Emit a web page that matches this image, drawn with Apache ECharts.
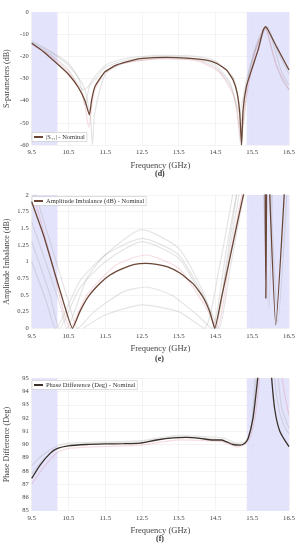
<!DOCTYPE html>
<html><head><meta charset="utf-8">
<script src="https://cdn.jsdelivr.net/npm/echarts@6/dist/echarts.min.js"></script>
<style>html,body{margin:0;padding:0;background:#fff}#c{width:303px;height:550px}</style>
</head><body><div id="c"></div>
<script>
// ---- Data ----
const xTicks = [9.5, 10.5, 11.5, 12.5, 13.5, 14.5, 15.5, 16.5];
const bandLeft = [9.5, 10.2];
const bandRight = [15.35, 16.5];

// (d) S-parameters (dB)
const dNominal = [[9.5,-14],[9.82,-17.8],[10.21,-23.5],[10.5,-28],[10.77,-34],[10.95,-40],[11.07,-46.4],[11.13,-39.7],[11.22,-33.6],[11.36,-29.9],[11.5,-26.8],[11.81,-23.8],[12.26,-21.6],[12.53,-20.8],[13.17,-20.4],[13.71,-20.7],[14.26,-21.6],[14.53,-23.1],[14.8,-26.1],[14.98,-30.6],[15.09,-36.6],[15.16,-45.7],[15.21,-60],[15.25,-44.2],[15.34,-33.6],[15.48,-26.1],[15.66,-17],[15.8,-8],[15.86,-6.5],[15.93,-8],[16.16,-15.5],[16.5,-26.1]];
const dVar1 = [[9.5,-14],[10,-19],[10.5,-26],[10.9,-35],[11.2,-31],[11.5,-25],[12,-22],[13,-20],[14,-21],[14.5,-24],[14.9,-32],[15.15,-45],[15.35,-30],[15.6,-16],[15.9,-7],[16.1,-16],[16.3,-27],[16.5,-33]];
const dVar2 = [[9.5,-13.5],[10,-18],[10.5,-24],[10.9,-33],[11.1,-48],[11.15,-60],[11.22,-45],[11.5,-28],[12,-23],[13,-21],[14,-21.5],[14.5,-25],[14.9,-33],[15.1,-45],[15.18,-60],[15.3,-38],[15.6,-15],[15.85,-6.5],[16.05,-18],[16.3,-30],[16.5,-35]];
const dVar3 = [[9.5,-13],[10,-17.5],[10.5,-23],[10.8,-31],[10.95,-42],[11.1,-32],[11.5,-24],[12,-21],[13,-19.5],[14,-20],[14.5,-22],[15,-30],[15.25,-52],[15.4,-28],[15.65,-14],[15.9,-6.5],[16.2,-18],[16.5,-28]];
const dVar4 = [[9.5,-14.5],[10,-19.5],[10.5,-27],[10.9,-38],[11.05,-52],[11.2,-36],[11.5,-27],[12,-23],[13,-21],[14,-22],[14.6,-27],[15,-38],[15.2,-58],[15.3,-42],[15.6,-17],[15.85,-7],[16.15,-24],[16.5,-35]];

// (e) Amplitude imbalance (dB)
const eNominal = [[9.5,1.9],[9.82,1.4],[10.09,0.9],[10.36,0.4],[10.61,0],[10.81,0.25],[11.04,0.475],[11.36,0.675],[11.63,0.8],[11.99,0.9],[12.3,0.96],[12.6,0.975],[12.9,0.96],[13.2,0.92],[13.53,0.83],[13.89,0.67],[14.16,0.47],[14.35,0.24],[14.48,0],[14.66,0.45],[14.89,1.05],[15.12,1.65],[15.3,2.1],null,[15.85,2.1],[15.87,0.45],[15.89,2.1],null,[15.97,2.1],[16.14,0.05],[16.38,2.1]];
const eVar1 = [[9.5,1.6],[10,0.8],[10.3,0.3],[10.45,0],[11,0.75],[11.5,1.1],[12.5,1.48],[13.5,1.2],[14.2,0.5],[14.5,0],[14.8,0.9],[15.2,2.2]];
const eVar2 = [[9.5,1.3],[10,0.5],[10.25,0],[10.8,0.6],[11.5,1.0],[12.5,1.3],[13.5,1.05],[14.3,0.3],[14.5,0],[14.8,1],[15.1,2.1]];
const eVar3 = [[9.5,2.2],[10,1.3],[10.5,0.4],[10.75,0],[11.2,0.25],[12,0.55],[12.6,0.62],[13.3,0.5],[14,0.2],[14.4,0],[14.8,1.2],[15.1,2.1]];
const eVar4 = [[9.5,2.1],[10,1.1],[10.55,0],[11,0.5],[11.8,0.95],[12.6,1.1],[13.5,0.9],[14.2,0.35],[14.55,0],[14.9,1.1],[15.25,2.1]];
const eVar5 = [[9.5,1.0],[9.9,0.4],[10.15,0],[10.8,0.7],[11.5,1.1],[12.5,1.35],[13.5,1.1],[14.3,0.35],[14.6,0],[14.9,0.9],[15.3,2.1]];
const eVar6 = [[10.9,0],[11.5,0.2],[12.5,0.35],[13.5,0.25],[14.2,0],[14.6,0.9],[15,2.1],null,[15.8,2.1],[15.95,0.3],[16.05,2.1],null,[16.0,2.1],[16.2,0.1],[16.45,2.1]];

// (f) Phase difference (Deg)
const fNominal = [[9.5,87.44],[9.73,88.45],[10.0,89.33],[10.2,89.7],[10.5,89.9],[11.0,90.0],[11.5,90.04],[12.0,90.06],[12.44,90.1],[12.9,90.34],[13.35,90.5],[13.7,90.54],[14.07,90.47],[14.43,90.34],[14.66,90.34],[14.8,90.2],[14.98,90.0],[15.16,89.95],[15.3,90.1],[15.39,90.47],[15.52,91.98],[15.61,94],[15.66,95.3],null,[16.02,95.3],[16.11,92.7],[16.25,91],[16.5,89.84]];
const fVar1 = [[9.5,88.4],[9.8,89.2],[10.2,89.9],[10.5,90.1],[11.5,90.2],[12.5,90.3],[13.5,90.7],[14.2,90.6],[14.7,90.5],[15.1,90.1],[15.3,90.2],[15.45,91],[15.55,93],[15.62,95.2],null,[16.1,95.2],[16.2,93],[16.35,91.5],[16.5,90.8]];
const fVar2 = [[9.5,87.0],[9.8,88.2],[10.2,89.4],[10.5,89.7],[11.5,89.85],[12.5,89.95],[13.5,90.35],[14.2,90.3],[14.7,90.2],[15.1,89.8],[15.3,90],[15.45,90.6],[15.6,92.5],[15.7,95.2],null,[16.3,95.2],[16.4,93.5],[16.5,92.2]];
const fVar3 = [[9.5,87.8],[9.8,88.8],[10.2,89.7],[10.5,89.95],[11.5,90.1],[12.5,90.2],[13.5,90.6],[14.5,90.4],[15.2,90],[15.4,90.5],[15.5,92],[15.58,95.2],null,[16.2,95.2],[16.3,92.8],[16.5,91.2]];

// ---- Chart ----
const FONT = 'Liberation Serif';
const NOM = '#6a4636';
const GRAY = 'rgba(150,150,150,0.25)';
const PINK = 'rgba(225,120,140,0.25)';
const BAND = 'rgba(222,222,250,0.85)';

const grids = [
  {left: 31.7, right: 14, top: 12.3, height: 132.7, outerBoundsMode:'none', containLabel:false},
  {left: 31.7, right: 14, top: 195, height: 133.3, outerBoundsMode:'none', containLabel:false},
  {left: 31.7, right: 14, top: 378.3, height: 132.4, outerBoundsMode:'none', containLabel:false}
];
function xAxis(i){
  return {type:'value', gridIndex:i, min:9.5, max:16.5, interval:0.5,
    name:'Frequency (GHz)', nameLocation:'middle', nameGap:16, nameMoveOverlap:false,
    nameTextStyle:{fontFamily:FONT, fontSize:8.5, color:'#444'},
    axisLine:{show:false}, axisTick:{show:false},
    axisLabel:{margin:4, fontFamily:FONT, fontSize:6.8, color:'#444',
      formatter:v => (Math.abs(((v*2)%2)-1) < 1e-6 ? String(v) : '')},
    splitLine:{show:true, lineStyle:{color:['#ececec','rgba(0,0,0,0)'], width:0.6}}};
}
function yAxis(i, min, max, interval, name){
  return {type:'value', gridIndex:i, min:min, max:max, interval:interval,
    name:name, nameLocation:'middle', nameGap:20.5, nameRotate:90, nameMoveOverlap:false,
    nameTextStyle:{fontFamily:FONT, fontSize:8, color:'#444'},
    axisLine:{show:false}, axisTick:{show:false},
    axisLabel:{margin:3, fontFamily:FONT, fontSize:6.5, color:'#444'},
    splitLine:{show:true, lineStyle:{color:'#ececec', width:0.6}}};
}
function faint(i, data, color){
  return {type:'line', xAxisIndex:i, yAxisIndex:i, data:data, showSymbol:false, smooth:0.2,
    lineStyle:{color:color, width:1.2}, silent:true, z:2};
}
function bands(i){
  return {type:'line', xAxisIndex:i, yAxisIndex:i, data:[], silent:true, z:1,
    markArea:{silent:true, itemStyle:{color:BAND}, data:[
      [{xAxis:bandLeft[0]},{xAxis:bandLeft[1]}],
      [{xAxis:bandRight[0]},{xAxis:bandRight[1]}]]}};
}
function nominal(i, name, data, color, sm){
  return {name:name, type:'line', xAxisIndex:i, yAxisIndex:i, data:data, showSymbol:false, smooth:sm,
    lineStyle:{color:color, width:1.3}, itemStyle:{color:color}, z:5};
}
function legend(name, left, top){
  return {data:[name], left:left, top:top, orient:'horizontal', itemWidth:9, itemHeight:2, itemGap:2,
    padding:[1,2], backgroundColor:'#fff', borderColor:'#bbb', borderWidth:0.5, borderRadius:0,
    icon:'rect', textStyle:{fontFamily:FONT, fontSize:6.5, color:'#333', padding:[0,0,0,-2]}, selectedMode:false};
}
const nD = '|S\u2081\u2081| - Nominal';
const nE = 'Amplitude Imbalance (dB) - Nominal';
const nF = 'Phase Difference (Deg) - Nominal';

const option = {
  animation:false,
  grid:grids,
  xAxis:[xAxis(0), xAxis(1), xAxis(2)],
  yAxis:[yAxis(0,-60,0,10,'S-parameters (dB)'), yAxis(1,0,2,0.25,'Amplitude Imbalance (dB)'), yAxis(2,85,95,1,'Phase Difference (Deg)')],
  legend:[legend(nD, 32, 132.5), legend(nE, 32, 196.5), legend(nF, 32, 380.5)],
  series:[
    bands(0), bands(1), bands(2),
    faint(0,dVar1,GRAY), faint(0,dVar2,GRAY), faint(0,dVar3,GRAY), faint(0,dVar4,PINK),
    faint(1,eVar1,GRAY), faint(1,eVar2,GRAY), faint(1,eVar3,GRAY), faint(1,eVar4,PINK), faint(1,eVar5,GRAY), faint(1,eVar6,GRAY),
    faint(2,fVar1,GRAY), faint(2,fVar2,PINK), faint(2,fVar3,GRAY),
    nominal(0, nD, dNominal, NOM, 0.15),
    nominal(1, nE, eNominal, NOM, 0.15),
    nominal(2, nF, fNominal, '#3b302a', 0.25)
  ],
  graphic:[
    {type:'text', left:155, top:170, style:{text:'(d)', fontFamily:FONT, fontSize:8, fontWeight:'bold', fill:'#333'}},
    {type:'text', left:155, top:355, style:{text:'(e)', fontFamily:FONT, fontSize:8, fontWeight:'bold', fill:'#333'}},
    {type:'text', left:156, top:535, style:{text:'(f)', fontFamily:FONT, fontSize:8, fontWeight:'bold', fill:'#333'}}
  ]
};
const chart = echarts.init(document.getElementById('c'), null, {renderer:'canvas'});
chart.setOption(option);
</script>
</body></html>
